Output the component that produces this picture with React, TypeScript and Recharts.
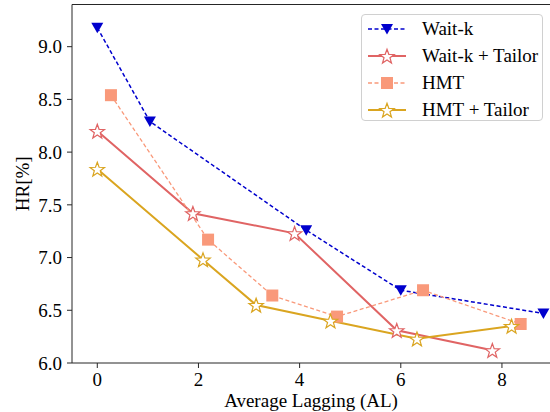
import { LineChart, Line, XAxis, YAxis, ReferenceLine } from "recharts";

// values
const waitK = [
  { x: 0.0, y: 9.18 },
  { x: 1.04, y: 8.29 },
  { x: 4.13, y: 7.26 },
  { x: 6.0, y: 6.69 },
  { x: 8.82, y: 6.47 },
];
const waitKTailor = [
  { x: 0.0, y: 8.2 },
  { x: 1.89, y: 7.42 },
  { x: 3.9, y: 7.23 },
  { x: 5.92, y: 6.31 },
  { x: 7.81, y: 6.12 },
];
const hmt = [
  { x: 0.27, y: 8.54 },
  { x: 2.19, y: 7.17 },
  { x: 3.46, y: 6.64 },
  { x: 4.74, y: 6.44 },
  { x: 6.44, y: 6.69 },
  { x: 8.37, y: 6.37 },
];
const hmtTailor = [
  { x: 0.0, y: 7.84 },
  { x: 2.09, y: 6.98 },
  { x: 3.14, y: 6.55 },
  { x: 4.61, y: 6.4 },
  { x: 6.32, y: 6.23 },
  { x: 8.19, y: 6.35 },
];
const xTicks = [0, 2, 4, 6, 8];
const yTicks = [6.0, 6.5, 7.0, 7.5, 8.0, 8.5, 9.0];

const FONT = '"Liberation Serif", "Times New Roman", serif';
const FS = 19;
const BLUE = "#0000cd";
const RED = "#e06464";
const SALMON = "#f9997a";
const GOLD = "#daa520";
const AXIS = "#262626";

function starPath(cx: number, cy: number, R: number, r: number) {
  let d = "";
  for (let i = 0; i < 10; i++) {
    const rad = i % 2 === 0 ? R : r;
    const a = -Math.PI / 2 + (i * Math.PI) / 5;
    d += (i === 0 ? "M" : "L") + (cx + rad * Math.cos(a)).toFixed(2) + "," + (cy + rad * Math.sin(a)).toFixed(2);
  }
  return d + "Z";
}

const triShape = (cx: number, cy: number, color: string) => (
  <path d={`M${cx - 6},${cy - 5} L${cx + 6},${cy - 5} L${cx},${cy + 5.5} Z`} fill={color} />
);
const starShape = (cx: number, cy: number, color: string) => (
  <path d={starPath(cx, cy + 0.8, 7.6, 3.1)} fill="#fff" stroke={color} strokeWidth={1.2} />
);
const squareShape = (cx: number, cy: number, color: string) => (
  <rect x={cx - 6} y={cy - 6} width={12} height={12} fill={color} />
);

const makeDot = (shape: (cx: number, cy: number, c: string) => any, color: string) => (p: any) => {
  if (p.cx == null || p.cy == null) return <g key={p.key} />;
  return <g key={p.key}>{shape(p.cx, p.cy, color)}</g>;
};

const series = [
  { name: "Wait-k", data: waitK, color: BLUE, dash: "4 2.5", width: 1.5, shape: triShape },
  { name: "Wait-k + Tailor", data: waitKTailor, color: RED, dash: undefined, width: 2, shape: starShape },
  { name: "HMT", data: hmt, color: SALMON, dash: "4 2.5", width: 1.3, shape: squareShape },
  { name: "HMT + Tailor", data: hmtTailor, color: GOLD, dash: undefined, width: 2, shape: starShape },
];

function LegendBox() {
  return (
    <div
      style={{
        position: "absolute",
        left: 361,
        top: 14,
        width: 180,
        height: 105,
        border: "1px solid #d0d0d0",
        borderRadius: 4,
        background: "rgba(255,255,255,0.85)",
        fontFamily: FONT,
        fontSize: FS,
        color: "#000",
      }}
    >
      {series.map((s, i) => (
        <div key={s.name} style={{ position: "absolute", left: 0, top: 3 + i * 27, height: 22, display: "flex", alignItems: "center" }}>
          <svg width={40} height={20} style={{ marginLeft: 5 }}>
            <line x1={1} y1={10} x2={39} y2={10} stroke={s.color} strokeWidth={s.width} strokeDasharray={s.dash} />
            {s.shape(20, 10, s.color)}
          </svg>
          <span style={{ marginLeft: 15, whiteSpace: "nowrap" }}>{s.name}</span>
        </div>
      ))}
    </div>
  );
}

const yLabel = (props: any) => {
  const vb = props.viewBox;
  const cx = 22;
  const cy = vb.y + vb.height / 2;
  return (
    <text x={cx} y={cy} transform={`rotate(-90, ${cx}, ${cy})`} textAnchor="middle" dominantBaseline="central" fontFamily={FONT} fontSize={FS} fill="#000">
      HR[%]
    </text>
  );
};

export default function App() {
  return (
    <div style={{ position: "absolute", left: 0, top: 0, width: 550, height: 412, background: "#fff" }}>
      <LineChart width={550} height={412} margin={{ top: 4.5, right: 0, left: 0, bottom: 0 }}>
        <XAxis
          type="number"
          dataKey="x"
          domain={[-0.5, 8.95]}
          ticks={xTicks}
          allowDataOverflow
          height={49}
          stroke={AXIS}
          tickSize={5}
          tickMargin={4.5}
          tick={{ fontFamily: FONT, fontSize: FS, fill: "#000" }}
          label={{ value: "Average Lagging (AL)", position: "insideBottom", offset: 5, fontFamily: FONT, fontSize: FS, fill: "#000" }}
        />
        <YAxis
          type="number"
          dataKey="y"
          domain={[6.0, 9.4]}
          ticks={yTicks}
          allowDataOverflow
          width={72}
          stroke={AXIS}
          tickSize={5}
          tickMargin={5}
          tickFormatter={(v: number) => v.toFixed(1)}
          tick={{ fontFamily: FONT, fontSize: FS, fill: "#000" }}
          label={{ content: yLabel }}
        />
        <ReferenceLine y={9.4} stroke={AXIS} strokeWidth={1} ifOverflow="extendDomain" />
        {series.map((s) => (
          <Line
            key={s.name}
            data={s.data}
            dataKey="y"
            name={s.name}
            type="linear"
            stroke={s.color}
            strokeWidth={s.width}
            strokeDasharray={s.dash}
            dot={makeDot(s.shape, s.color)}
            activeDot={false}
            isAnimationActive={false}
          />
        ))}
      </LineChart>
      <LegendBox />
    </div>
  );
}
